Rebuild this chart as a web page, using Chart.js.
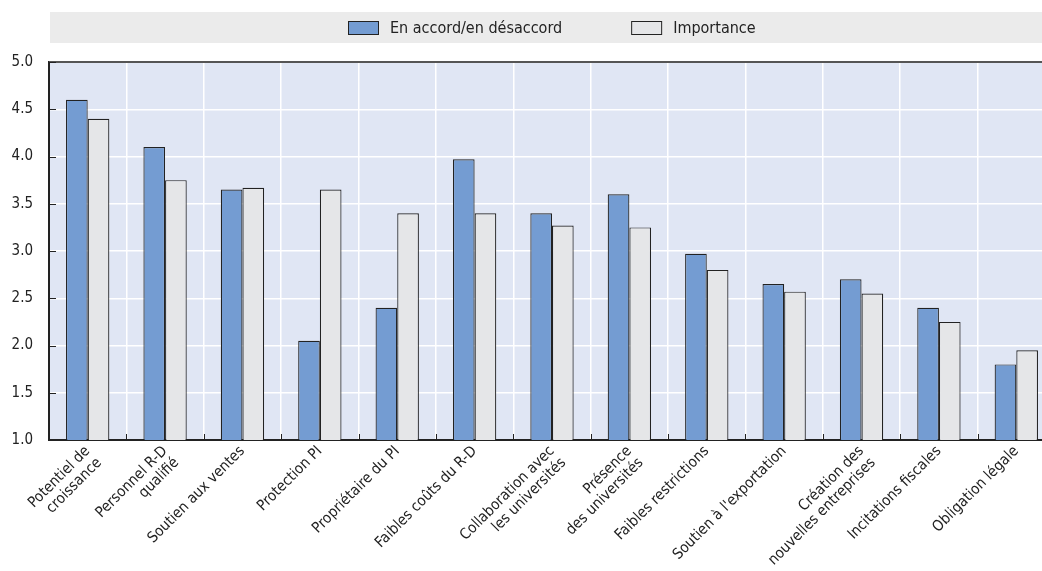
<!DOCTYPE html>
<html>
<head>
<meta charset="utf-8">
<script src="https://cdn.jsdelivr.net/npm/chart.js@4/dist/chart.umd.min.js"></script>
<style>
  html, body { margin: 0; padding: 0; background: #fff; overflow: hidden; }
  #wrap { width: 1056px; height: 571px; position: relative; }
</style>
</head>
<body>
<div id="wrap"><canvas id="c"></canvas></div>
<script>
// Categories (factors) and the two survey series
const categories = [
  ["Potentiel de", "croissance"],
  ["Personnel R-D", "qualifié"],
  "Soutien aux ventes",
  "Protection PI",
  "Propriétaire du PI",
  "Faibles coûts du R-D",
  ["Collaboration avec", "les universités"],
  ["Présence", "des universités"],
  "Faibles restrictions",
  "Soutien à l'exportation",
  ["Création des", "nouvelles entreprises"],
  "Incitations fiscales",
  "Obligation légale"
];
const accordValues    = [4.60, 4.10, 3.65, 2.05, 2.40, 3.97, 3.40, 3.60, 2.97, 2.65, 2.70, 2.40, 1.80];
const importanceValues = [4.40, 3.75, 3.67, 3.65, 3.40, 3.40, 3.27, 3.25, 2.80, 2.57, 2.55, 2.25, 1.95];
const seriesNames = ["En accord/en désaccord", "Importance"];
const yTicks = [1.0, 1.5, 2.0, 2.5, 3.0, 3.5, 4.0, 4.5, 5.0];

const FONT = '"DejaVu Sans Condensed", "Liberation Sans Narrow", "Liberation Sans", sans-serif';
const BLUE = '#749cd2';
const GREY = '#e5e6e8';
const EDGE = '#222222';

// Plot background, frame lines and inward tick marks
const frame = {
  id: 'frame',
  beforeDraw(chart) {
    const { ctx, chartArea: a } = chart;
    ctx.save();
    ctx.fillStyle = '#e0e6f4';
    ctx.fillRect(a.left, a.top, a.right - a.left, a.bottom - a.top);
    ctx.restore();
  },
  afterDatasetsDraw(chart) {
    const { ctx, chartArea: a, scales } = chart;
    ctx.save();
    // top border
    ctx.strokeStyle = '#555';
    ctx.lineWidth = 2;
    ctx.beginPath();
    ctx.moveTo(a.left, a.top);
    ctx.lineTo(a.right, a.top);
    ctx.stroke();
    // inward y ticks
    ctx.strokeStyle = EDGE;
    ctx.lineWidth = 1;
    scales.y.ticks.forEach(t => {
      const y = Math.round(scales.y.getPixelForValue(t.value)) + 0.5;
      ctx.beginPath();
      ctx.moveTo(a.left, y);
      ctx.lineTo(a.left + 7, y);
      ctx.stroke();
    });
    // inward x ticks at category boundaries
    const n = categories.length;
    for (let i = 0; i < n - 1; i++) {
      const x = Math.round((scales.x.getPixelForTick(i) + scales.x.getPixelForTick(i + 1)) / 2) + 0.5;
      ctx.beginPath();
      ctx.moveTo(x, a.bottom);
      ctx.lineTo(x, a.bottom - 6);
      ctx.stroke();
    }
    ctx.restore();
  }
};

// Legend on a grey band above the plot
const legendBand = {
  id: 'legendBand',
  afterDraw(chart) {
    const { ctx, chartArea: a } = chart;
    const bandTop = 12, bandH = 31;
    ctx.save();
    ctx.fillStyle = '#ebebeb';
    ctx.fillRect(a.left + 1, bandTop, chart.width - a.left, bandH);
    ctx.font = '16px ' + FONT;
    ctx.textBaseline = 'middle';
    const boxW = 30, boxH = 13, gapText = 12, gapItem = 69;
    const ds = chart.data.datasets;
    const widths = ds.map(d => boxW + gapText + ctx.measureText(d.label).width);
    const total = widths.reduce((s, w) => s + w, 0) + gapItem * (ds.length - 1);
    let x = Math.round(552 - total / 2);
    const midY = bandTop + bandH / 2;
    ds.forEach((d, i) => {
      ctx.fillStyle = d.backgroundColor;
      ctx.fillRect(x, midY - boxH / 2, boxW, boxH);
      ctx.strokeStyle = EDGE;
      ctx.lineWidth = 1;
      ctx.strokeRect(x + 0.5, Math.round(midY - boxH / 2) + 0.5, boxW, boxH);
      ctx.fillStyle = '#222';
      ctx.fillText(d.label, x + boxW + gapText, midY + 1);
      x += widths[i] + gapItem;
    });
    ctx.restore();
  }
};

new Chart(document.getElementById('c'), {
  type: 'bar',
  data: {
    labels: categories,
    datasets: [
      { label: seriesNames[0], data: accordValues, backgroundColor: BLUE, borderColor: EDGE, borderWidth: 1.2 },
      { label: seriesNames[1], data: importanceValues, backgroundColor: GREY, borderColor: EDGE, borderWidth: 1.2 }
    ]
  },
  options: {
    responsive: true,
    maintainAspectRatio: false,
    animation: false,
    layout: { padding: { top: 62, right: 1, left: 0, bottom: 0 } },
    datasets: { bar: { categoryPercentage: 0.56, barPercentage: 1.0 } },
    plugins: {
      legend: { display: false },
      tooltip: { enabled: false }
    },
    scales: {
      x: {
        offset: true,
        grid: { offset: true, color: '#ffffff', lineWidth: 1.5, drawTicks: false },
        border: { color: EDGE, width: 2 },
        ticks: {
          font: { family: FONT, size: 15, lineHeight: 1.1 },
          color: '#222',
          maxRotation: 45,
          minRotation: 45,
          autoSkip: false,
          padding: 3
        },
        afterFit(scale) { scale.height = 131; }
      },
      y: {
        min: 1,
        max: 5,
        afterBuildTicks(scale) { scale.ticks = yTicks.map(v => ({ value: v })); },
        grid: { color: '#ffffff', lineWidth: 1.5, drawTicks: false },
        border: { color: EDGE, width: 2 },
        ticks: {
          font: { family: FONT, size: 15 },
          color: '#222',
          padding: 16,
          callback: v => v.toFixed(1)
        },
        afterFit(scale) { scale.width = 49; }
      }
    }
  },
  plugins: [frame, legendBand]
});
</script>
</body>
</html>
